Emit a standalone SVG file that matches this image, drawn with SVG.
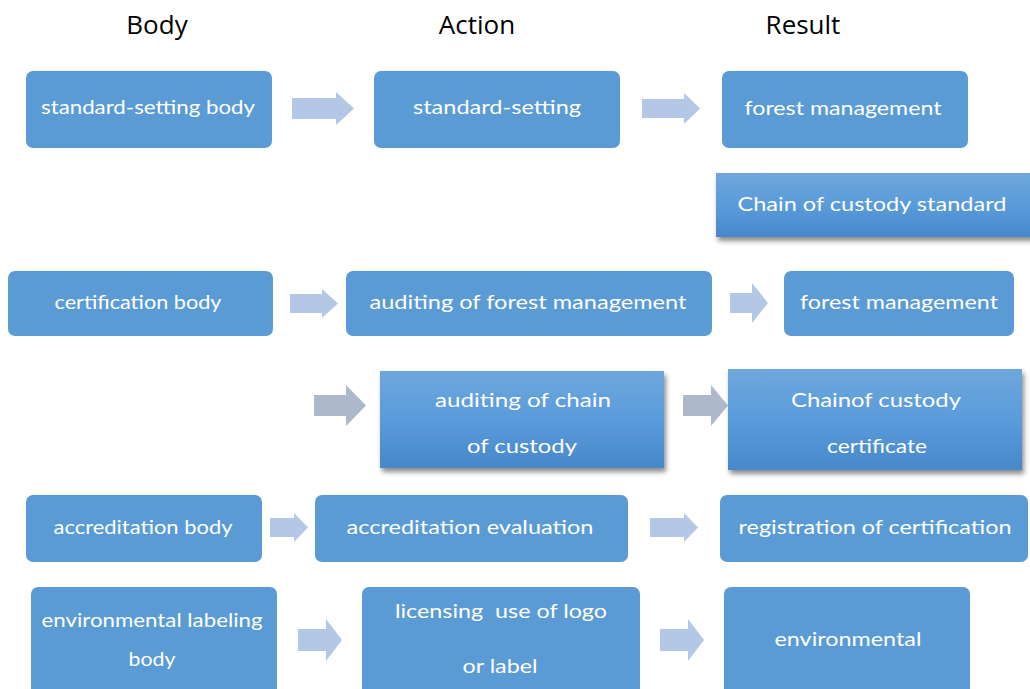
<svg xmlns="http://www.w3.org/2000/svg" width="1030" height="689" viewBox="0 0 1030 689">
<defs>
<linearGradient id="g" x1="0" y1="0" x2="0" y2="1">
<stop offset="0" stop-color="#6EA7DC"/>
<stop offset="0.5" stop-color="#5A9BDB"/>
<stop offset="1" stop-color="#4788CA"/>
</linearGradient>
<filter id="sh" x="-10%" y="-10%" width="125%" height="130%">
<feDropShadow dx="2" dy="4" stdDeviation="2.5" flood-color="#000" flood-opacity="0.45"/>
</filter>
<style>
.box{fill:#5B9BD5}
.gbox{fill:url(#g);filter:url(#sh)}
.arr{fill:#B4C7E7}
.garr{fill:#ADB9CA}
.t{font-family:"Lato","Open Sans",sans-serif;font-size:19px;fill:#fff;text-anchor:middle}
.h{font-family:"Open Sans","Liberation Sans",sans-serif;font-size:26px;fill:#000;text-anchor:middle}
</style>
</defs>
<rect width="1030" height="689" fill="#fff"/>
<g id="headers">
<text class="h" x="157" y="34">Body</text>
<text class="h" x="477" y="34">Action</text>
<text class="h" x="803" y="34">Result</text>
</g>
<g id="connectors">
<polygon class="arr" points="292,98 336,98 336,92 354,108.5 336,125 336,119 292,119"/>
<polygon class="arr" points="642,99 684,99 684,93 700,108.5 684,124 684,118 642,118"/>
<polygon class="arr" points="290,294 322,294 322,289 338,303.5 322,318 322,313 290,313"/>
<polygon class="arr" points="730,293 752,293 752,283 768,303 752,323 752,313 730,313"/>
<polygon class="garr" points="314,395 346,395 346,385 366,405.5 346,426 346,416 314,416"/>
<polygon class="garr" points="683,395 711,395 711,385 728,405.5 711,426 711,416 683,416"/>
<polygon class="arr" points="270,518 294,518 294,513 308,527.5 294,542 294,537 270,537"/>
<polygon class="arr" points="650,518 684,518 684,513 698,527.5 684,542 684,537 650,537"/>
<polygon class="arr" points="298,629 326,629 326,619 342,640 326,661 326,651 298,651"/>
<polygon class="arr" points="660,629 688,629 688,619 704,640 688,661 688,651 660,651"/>
</g>
<g id="n1"><rect class="box" x="26" y="71" width="246" height="77" rx="7"/><text class="t" x="148" y="114" textLength="214" lengthAdjust="spacingAndGlyphs">standard-setting body</text></g>
<g id="n2"><rect class="box" x="374" y="71" width="246" height="77" rx="7"/><text class="t" x="497" y="114" textLength="168" lengthAdjust="spacingAndGlyphs">standard-setting</text></g>
<g id="n3"><rect class="box" x="722" y="71" width="246" height="77" rx="7"/><text class="t" x="843" y="115" textLength="197" lengthAdjust="spacingAndGlyphs">forest management</text></g>
<g id="n4"><rect class="gbox" x="716" y="173" width="320" height="64"/><text class="t" x="872" y="211" textLength="269" lengthAdjust="spacingAndGlyphs">Chain of custody standard</text></g>
<g id="n5"><rect class="box" x="8" y="271" width="265" height="65" rx="7"/><text class="t" x="138" y="309" textLength="167" lengthAdjust="spacingAndGlyphs">certification body</text></g>
<g id="n6"><rect class="box" x="346" y="271" width="366" height="65" rx="7"/><text class="t" x="528" y="309" textLength="317" lengthAdjust="spacingAndGlyphs">auditing of forest management</text></g>
<g id="n7"><rect class="box" x="784" y="271" width="230" height="65" rx="7"/><text class="t" x="899" y="309" textLength="198" lengthAdjust="spacingAndGlyphs">forest management</text></g>
<g id="n8"><rect class="gbox" x="380" y="371" width="284" height="97"/><text class="t" x="523" y="407" textLength="176" lengthAdjust="spacingAndGlyphs">auditing of chain</text><text class="t" x="522" y="453" textLength="110" lengthAdjust="spacingAndGlyphs">of custody</text></g>
<g id="n9"><rect class="gbox" x="728" y="369" width="294" height="101"/><text class="t" x="876" y="407" textLength="170" lengthAdjust="spacingAndGlyphs">Chainof custody</text><text class="t" x="877" y="453" textLength="100" lengthAdjust="spacingAndGlyphs">certificate</text></g>
<g id="n10"><rect class="box" x="26" y="495" width="236" height="67" rx="7"/><text class="t" x="143" y="534" textLength="179" lengthAdjust="spacingAndGlyphs">accreditation body</text></g>
<g id="n11"><rect class="box" x="315" y="495" width="313" height="67" rx="7"/><text class="t" x="470" y="534" textLength="247" lengthAdjust="spacingAndGlyphs">accreditation evaluation</text></g>
<g id="n12"><rect class="box" x="720" y="495" width="308" height="67" rx="7"/><text class="t" x="875" y="534" textLength="273" lengthAdjust="spacingAndGlyphs">registration of certification</text></g>
<g id="n13"><rect class="box" x="31" y="587" width="246" height="110" rx="7"/><text class="t" x="152" y="627" textLength="221" lengthAdjust="spacingAndGlyphs">environmental labeling</text><text class="t" x="152" y="666" textLength="47" lengthAdjust="spacingAndGlyphs">body</text></g>
<g id="n14"><rect class="box" x="362" y="587" width="278" height="110" rx="7"/><text class="t" x="501" y="618" textLength="212" lengthAdjust="spacingAndGlyphs" xml:space="preserve">licensing  use of logo</text><text class="t" x="500" y="673" textLength="75" lengthAdjust="spacingAndGlyphs">or label</text></g>
<g id="n15"><rect class="box" x="724" y="587" width="246" height="110" rx="7"/><text class="t" x="848" y="646" textLength="147" lengthAdjust="spacingAndGlyphs">environmental</text></g>
</svg>
